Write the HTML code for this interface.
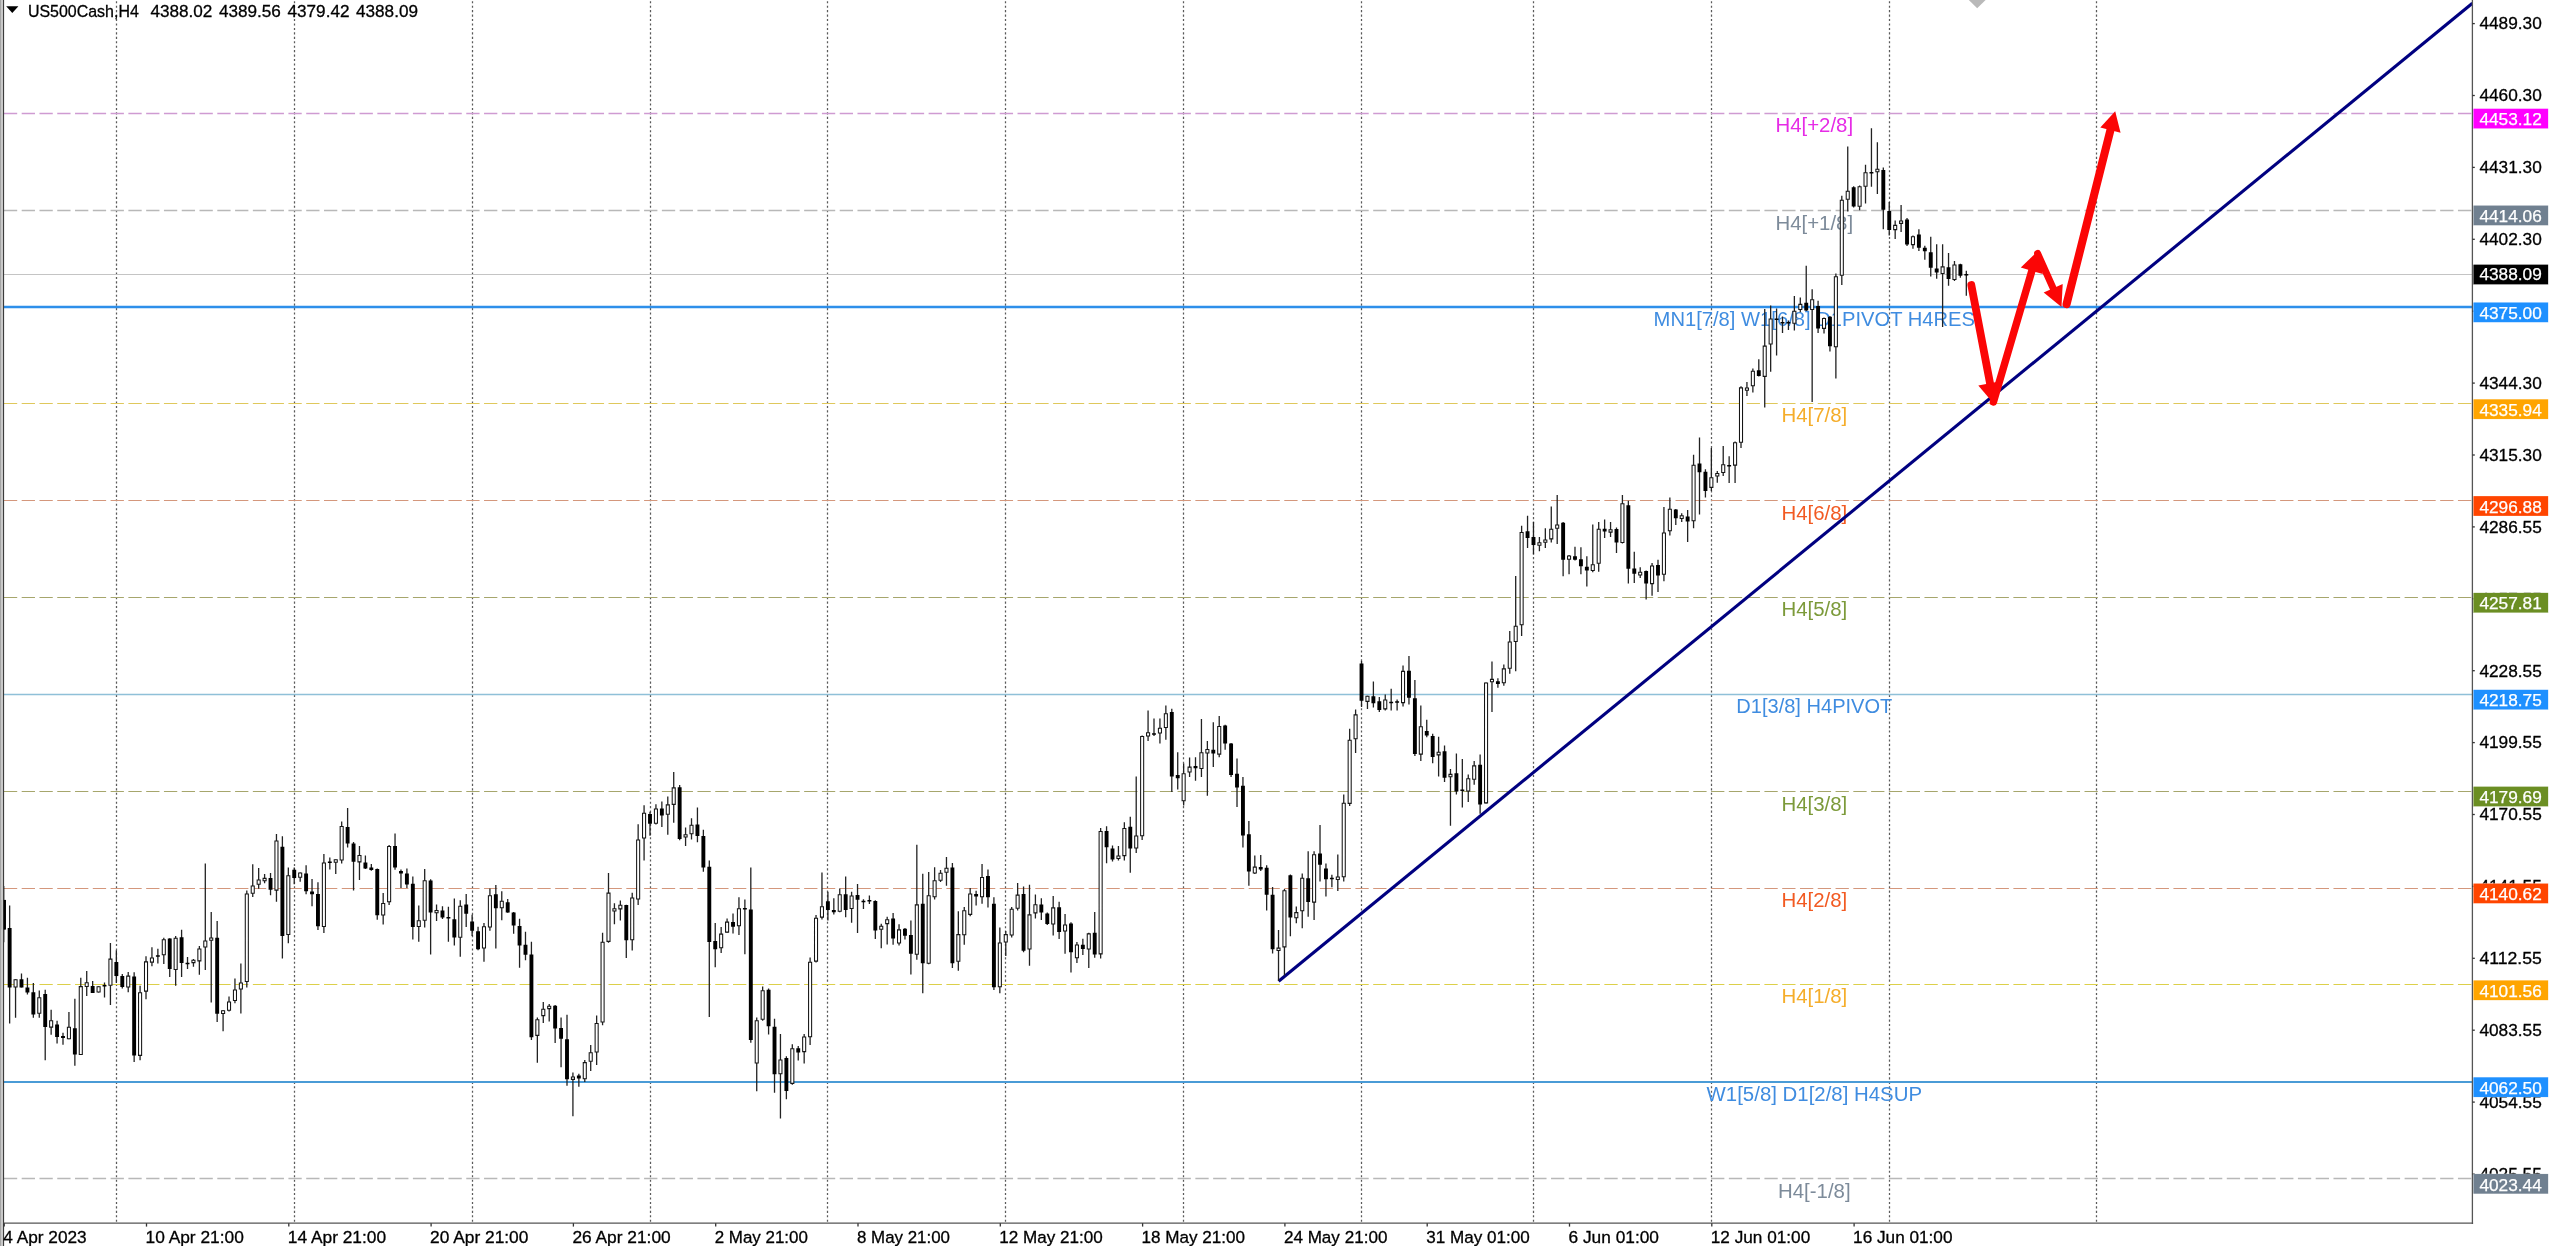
<!DOCTYPE html>
<html><head><meta charset="utf-8"><title>US500Cash,H4</title>
<style>html,body{margin:0;padding:0;background:#fff;overflow:hidden}body{width:2560px;height:1246px;position:relative;font-family:"Liberation Sans",sans-serif}</style>
</head><body>
<svg width="2560" height="1246" viewBox="0 0 2560 1246" style="position:absolute;left:0;top:0;will-change:transform;font-family:'Liberation Sans',sans-serif">
<rect x="0" y="0" width="2560" height="1246" fill="#fff"/>
<g stroke="#1a1a1a" stroke-opacity=".72" stroke-width="1.25" stroke-dasharray="2.1 2.347" fill="none">
<path d="M116.50 1.2V1223.2"/>
<path d="M294.50 1.2V1223.2"/>
<path d="M472.50 1.2V1223.2"/>
<path d="M650.50 1.2V1223.2"/>
<path d="M827.50 1.2V1223.2"/>
<path d="M1005.50 1.2V1223.2"/>
<path d="M1183.50 1.2V1223.2"/>
<path d="M1361.50 1.2V1223.2"/>
<path d="M1533.50 1.2V1223.2"/>
<path d="M1711.50 1.2V1223.2"/>
<path d="M1889.50 1.2V1223.2"/>
<path d="M2096.50 1.2V1223.2"/>
</g>
<path d="M3.90 113.50H2472.4" stroke="#cf9bd2" stroke-width="1.3" stroke-dasharray="13.3 4.483" fill="none"/>
<path d="M3.90 210.50H2472.4" stroke="#b8b8b8" stroke-width="1.4" stroke-dasharray="13.3 4.483" fill="none"/>
<path d="M3.60 274.50H2472.4" stroke="#c4c4c4" stroke-width="1.2" fill="none"/>
<path d="M3.60 307.00H2472.4" stroke="#2e8fea" stroke-width="2.3" fill="none"/>
<path d="M3.90 403.50H2472.4" stroke="#dfc85c" stroke-width="1.1" stroke-dasharray="13.3 4.483" fill="none"/>
<path d="M3.90 500.50H2472.4" stroke="#d4977c" stroke-width="1.1" stroke-dasharray="13.3 4.483" fill="none"/>
<path d="M3.90 597.50H2472.4" stroke="#a6a66c" stroke-width="1.1" stroke-dasharray="13.3 4.483" fill="none"/>
<path d="M3.60 694.50H2472.4" stroke="#8fc0d8" stroke-width="1.6" fill="none"/>
<path d="M3.90 791.50H2472.4" stroke="#a6a66c" stroke-width="1.1" stroke-dasharray="13.3 4.483" fill="none"/>
<path d="M3.90 888.50H2472.4" stroke="#d4977c" stroke-width="1.1" stroke-dasharray="13.3 4.483" fill="none"/>
<path d="M3.90 984.50H2472.4" stroke="#dcd04a" stroke-width="1.1" stroke-dasharray="13.3 4.483" fill="none"/>
<path d="M3.60 1082.00H2472.4" stroke="#4a9bd6" stroke-width="2.0" fill="none"/>
<path d="M3.90 1178.50H2472.4" stroke="#b8b8b8" stroke-width="1.4" stroke-dasharray="13.3 4.483" fill="none"/>
<g font-size="20.5" text-anchor="middle">
<text transform="translate(1814.3 131.7) scale(0.996 1)" fill="#e62ce6">H4[+2/8]</text>
<text transform="translate(1814.3 229.5) scale(0.996 1)" fill="#7d8b9a">H4[+1/8]</text>
<text transform="translate(1814.3 325.8) scale(0.985 1)" fill="#3f8ce0">MN1[7/8] W1[6/8] D1PIVOT H4RES</text>
<text transform="translate(1814.3 422.2) scale(0.996 1)" fill="#f5ad2a">H4[7/8]</text>
<text transform="translate(1814.3 520.0) scale(0.996 1)" fill="#f25a22">H4[6/8]</text>
<text transform="translate(1814.3 616.4) scale(0.996 1)" fill="#7c9a3a">H4[5/8]</text>
<text transform="translate(1814.3 712.7) scale(0.979 1)" fill="#3f8ce0">D1[3/8] H4PIVOT</text>
<text transform="translate(1814.3 810.6) scale(0.996 1)" fill="#7c9a3a">H4[3/8]</text>
<text transform="translate(1814.3 906.9) scale(0.996 1)" fill="#f25a22">H4[2/8]</text>
<text transform="translate(1814.3 1003.3) scale(0.996 1)" fill="#f5ad2a">H4[1/8]</text>
<text transform="translate(1814.3 1101.1) scale(0.996 1)" fill="#3f8ce0">W1[5/8] D1[2/8] H4SUP</text>
<text transform="translate(1814.3 1197.5) scale(0.996 1)" fill="#7d8b9a">H4[-1/8]</text>
</g>
<path d="M1278.6 981.2L2472.4 3.2" stroke="#000080" stroke-width="3.1" fill="none" stroke-linecap="butt"/>
<path d="M3.71 886.0V942.3M9.64 905.4V1023.6M15.56 979.3V1017.7M21.49 973.4V987.6M27.42 977.8V994.4M33.35 983.0V1017.7M39.28 990.4V1017.7M45.21 989.8V1060.2M51.14 1009.7V1034.7M57.07 1020.8V1043.5M63.00 1032.8V1044.8M68.93 1012.1V1039.3M74.86 998.7V1065.7M80.79 977.8V1055.0M86.72 971.0V995.9M92.65 981.1V993.1M98.58 986.3V992.6M104.50 982.6V997.4M110.43 942.9V1005.1M116.36 950.3V983.0M122.29 974.1V988.5M128.22 971.9V992.2M134.15 972.3V1062.0M140.08 985.7V1060.2M146.01 956.2V999.2M151.94 947.3V966.3M157.87 948.8V963.6M163.80 937.7V964.1M169.73 938.3V977.1M175.66 935.9V985.7M181.59 929.8V977.1M187.52 957.1V969.1M193.45 959.0V966.7M199.37 946.0V974.7M205.30 863.5V970.1M211.23 911.9V1002.4M217.16 921.1V1021.9M223.09 1010.1V1031.2M229.02 996.5V1011.6M234.95 978.4V1003.3M240.88 963.6V1013.5M246.81 890.6V987.6M252.74 864.2V897.1M258.67 867.9V888.8M264.60 874.0V883.3M270.53 873.1V895.3M276.46 834.0V901.7M282.39 836.2V958.4M288.32 867.6V943.3M294.24 867.6V884.2M300.17 872.5V881.8M306.10 865.2V894.3M312.03 879.0V906.3M317.96 882.3V930.0M323.89 854.1V933.1M329.82 857.4V869.4M335.75 859.6V874.0M341.68 821.4V863.5M347.61 807.9V847.6M353.54 842.1V890.6M359.47 846.0V879.9M365.40 855.6V869.0M371.33 863.9V870.7M377.26 868.5V919.8M383.18 892.9V924.4M389.11 845.0V904.9M395.04 833.4V869.8M400.97 869.4V887.9M406.90 868.5V887.9M412.83 876.4V939.6M418.76 905.4V941.8M424.69 868.9V927.6M430.62 879.2V954.4M436.55 904.5V921.1M442.48 906.3V918.9M448.41 906.7V941.8M454.34 898.4V945.5M460.27 900.2V956.8M466.20 894.0V927.0M472.13 914.7V935.9M478.05 926.7V950.3M483.98 923.0V961.7M489.91 888.4V930.7M495.84 885.1V948.4M501.77 891.2V920.2M507.70 899.0V912.8M513.63 911.9V933.7M519.56 918.7V967.7M525.49 931.8V960.3M531.42 941.7V1040.0M537.35 1017.4V1062.7M543.28 1002.1V1023.0M549.21 1004.1V1021.5M555.14 1004.9V1042.9M561.07 1017.4V1067.3M567.00 1014.7V1085.8M572.92 1072.5V1116.2M578.85 1073.7V1086.7M584.78 1059.9V1082.1M590.71 1045.1V1071.0M596.64 1015.6V1065.1M602.57 932.8V1025.2M608.50 873.0V942.8M614.43 903.3V924.2M620.36 900.5V920.5M626.29 904.8V958.0M632.22 892.8V950.6M638.15 824.3V905.0M644.08 805.2V860.6M650.01 811.7V835.7M655.94 804.3V824.6M661.86 801.6V826.9M667.79 796.4V834.8M673.72 772.0V822.8M679.65 784.9V840.3M685.58 827.4V845.9M691.51 818.2V839.4M697.44 807.5V842.2M703.37 829.8V871.7M709.30 860.6V1017.1M715.23 922.9V967.2M721.16 927.1V953.0M727.09 918.4V932.7M733.02 913.6V933.6M738.95 897.2V935.1M744.88 899.4V954.3M750.81 867.4V1042.8M756.73 1017.4V1091.3M762.66 986.6V1020.7M768.59 988.4V1034.4M774.52 1018.7V1092.8M780.45 1034.0V1118.6M786.38 1056.2V1099.2M792.31 1044.2V1084.8M798.24 1046.0V1060.5M804.17 1034.0V1063.6M810.10 957.4V1045.1M816.03 914.9V962.4M821.96 872.4V919.5M827.89 891.8V920.4M833.82 898.2V914.5M839.75 888.6V912.3M845.67 876.6V917.3M851.60 891.8V922.8M857.53 884.0V933.0M863.46 899.2V909.0M869.39 895.5V903.9M875.32 900.2V938.9M881.25 923.8V948.2M887.18 916.8V944.5M893.11 913.1V944.8M899.04 924.2V945.4M904.97 927.9V939.5M910.90 920.5V974.6M916.83 844.7V959.7M922.76 873.7V993.2M928.69 871.9V964.2M934.62 867.2V899.6M940.54 870.0V882.0M946.47 857.1V885.7M952.40 863.0V967.9M958.33 911.2V970.7M964.26 907.0V944.8M970.19 887.9V916.2M976.12 890.7V905.5M982.05 864.1V903.8M987.98 869.5V907.5M993.91 897.2V990.1M999.84 927.6V993.2M1005.77 931.0V955.9M1011.70 907.0V937.4M1017.63 882.9V910.6M1023.56 886.6V952.2M1029.49 884.8V965.7M1035.41 894.4V918.4M1041.34 898.3V919.9M1047.27 912.5V924.9M1053.20 895.9V935.6M1059.13 901.8V938.9M1065.06 914.0V953.7M1070.99 922.3V972.5M1076.92 942.0V962.9M1082.85 938.7V955.0M1088.78 932.8V967.9M1094.71 911.9V957.7M1100.64 828.0V958.6M1106.57 826.3V863.3M1112.50 845.4V861.6M1118.43 845.9V860.4M1124.35 822.3V860.4M1130.28 816.8V872.8M1136.21 776.5V852.9M1142.14 735.5V840.0M1148.07 710.6V741.0M1154.00 718.6V736.0M1159.93 718.6V743.5M1165.86 705.4V739.7M1171.79 708.7V792.0M1177.72 752.2V789.5M1183.65 763.4V805.6M1189.58 757.6V777.0M1195.51 757.2V780.8M1201.44 719.1V777.0M1207.37 741.0V795.7M1213.30 722.3V767.1M1219.22 716.1V757.2M1225.15 724.8V749.7M1231.08 743.0V777.0M1237.01 758.4V806.9M1242.94 777.0V847.4M1248.87 821.1V885.7M1254.80 855.4V874.0M1260.73 854.9V871.1M1266.66 865.3V910.6M1272.59 887.0V953.6M1278.52 930.0V981.0M1284.45 889.0V975.5M1290.38 874.5V936.2M1296.31 906.4V923.3M1302.24 873.5V928.3M1308.17 851.2V916.8M1314.09 851.2V920.1M1320.02 825.0V881.5M1325.95 863.6V896.4M1331.88 874.8V887.2M1337.81 854.4V890.9M1343.74 794.4V881.5M1349.67 728.8V805.9M1355.60 709.4V752.9M1361.53 660.9V706.9M1367.46 695.7V708.9M1373.39 681.5V707.4M1379.32 696.9V711.9M1385.25 694.5V710.6M1391.18 688.7V710.6M1397.11 699.4V710.6M1403.03 665.4V706.4M1408.96 655.9V704.4M1414.89 680.0V756.1M1420.82 705.6V760.9M1426.75 719.8V737.2M1432.68 733.8V763.3M1438.61 736.7V776.5M1444.54 745.4V782.0M1450.47 769.1V825.8M1456.40 753.4V794.4M1462.33 759.1V807.6M1468.26 774.5V801.9M1474.19 761.1V784.7M1480.12 754.6V813.8M1486.05 682.5V803.4M1491.98 661.4V711.9M1497.90 678.3V687.7M1503.83 664.6V685.8M1509.76 631.0V673.8M1515.69 575.9V671.2M1521.62 525.7V635.9M1527.55 515.8V548.1M1533.48 522.0V554.3M1539.41 536.9V551.3M1545.34 528.2V548.1M1551.27 506.5V542.6M1557.20 495.1V543.9M1563.13 522.0V576.2M1569.06 555.0V574.2M1574.99 546.8V560.5M1580.92 547.3V574.2M1586.84 556.3V586.6M1592.77 524.5V572.2M1598.70 522.0V571.7M1604.63 519.5V538.1M1610.56 522.0V536.9M1616.49 527.4V553.1M1622.42 495.1V543.6M1628.35 500.8V583.4M1634.28 551.8V582.9M1640.21 567.2V577.9M1646.14 570.5V599.6M1652.07 563.0V595.8M1658.00 559.8V592.1M1663.93 507.0V581.2M1669.86 497.6V535.6M1675.79 509.0V525.0M1681.71 513.3V522.0M1687.64 510.0V541.9M1693.57 454.8V528.2M1699.50 437.4V514.5M1705.43 469.2V497.6M1711.36 447.9V490.9M1717.29 471.0V482.7M1723.22 446.1V476.0M1729.15 456.2V483.0M1735.08 441.6V483.0M1741.01 386.3V447.9M1746.94 382.1V396.1M1752.87 368.6V392.6M1758.80 359.2V376.5M1764.73 309.1V407.6M1770.66 305.5V371.7M1776.58 308.4V355.6M1782.51 316.4V333.1M1788.44 320.5V329.9M1794.37 296.1V330.6M1800.30 297.6V312.2M1806.23 265.8V311.1M1812.16 289.2V402.0M1818.09 300.7V333.1M1824.02 317.4V333.5M1829.95 315.9V351.4M1835.88 273.6V378.6M1841.81 195.7V284.9M1847.74 146.6V211.6M1853.67 186.3V207.5M1859.60 185.6V210.3M1865.52 164.8V203.6M1871.45 128.2V186.8M1877.38 142.3V193.9M1883.31 167.4V229.2M1889.24 201.9V235.4M1895.17 220.4V239.0M1901.10 204.9V231.9M1907.03 218.1V246.0M1912.96 235.4V248.7M1918.89 229.2V251.0M1924.82 245.7V259.8M1930.75 236.8V276.4M1936.68 244.3V278.7M1942.61 244.3V326.9M1948.54 253.1V285.8M1954.47 261.0V281.0M1960.39 263.7V277.8M1966.32 270.7V295.8" stroke="#222" stroke-width="1.3" fill="none"/>
<path d="M1.76 899.9h3.90V929.4h-3.90zM7.69 927.9h3.90V987.6h-3.90zM19.54 979.3h3.90V987.6h-3.90zM25.47 987.6h3.90V992.6h-3.90zM31.40 992.2h3.90V1014.4h-3.90zM43.26 994.0h3.90V1026.9h-3.90zM55.12 1024.5h3.90V1036.9h-3.90zM61.05 1036.1h3.90V1038.0h-3.90zM72.91 1028.2h3.90V1054.6h-3.90zM90.70 986.1h3.90V993.1h-3.90zM102.55 985.1h3.90V986.6h-3.90zM114.41 962.1h3.90V975.9h-3.90zM120.34 975.9h3.90V987.0h-3.90zM132.20 976.5h3.90V1055.4h-3.90zM155.92 955.3h3.90V956.8h-3.90zM167.78 938.6h3.90V969.1h-3.90zM179.64 937.2h3.90V963.0h-3.90zM185.57 962.8h3.90V964.3h-3.90zM215.21 937.7h3.90V1013.8h-3.90zM268.58 878.1h3.90V889.7h-3.90zM280.44 846.7h3.90V935.9h-3.90zM292.29 869.8h3.90V878.1h-3.90zM304.15 873.5h3.90V891.2h-3.90zM310.08 891.6h3.90V894.3h-3.90zM316.01 894.0h3.90V926.3h-3.90zM327.87 861.4h3.90V862.9h-3.90zM345.66 826.9h3.90V843.6h-3.90zM351.59 843.6h3.90V861.7h-3.90zM363.45 862.4h3.90V868.5h-3.90zM369.38 867.6h3.90V870.0h-3.90zM375.31 868.9h3.90V915.2h-3.90zM393.09 846.0h3.90V867.6h-3.90zM399.02 870.9h3.90V873.5h-3.90zM404.95 873.5h3.90V884.6h-3.90zM410.88 883.8h3.90V927.0h-3.90zM428.67 880.5h3.90V912.4h-3.90zM440.53 910.4h3.90V917.4h-3.90zM446.46 917.1h3.90V918.6h-3.90zM452.39 919.3h3.90V937.4h-3.90zM464.25 904.5h3.90V913.7h-3.90zM470.18 921.5h3.90V930.7h-3.90zM476.10 931.3h3.90V949.2h-3.90zM493.89 894.3h3.90V908.2h-3.90zM505.75 902.3h3.90V912.4h-3.90zM511.68 912.4h3.90V925.4h-3.90zM517.61 926.1h3.90V945.5h-3.90zM523.54 944.8h3.90V954.7h-3.90zM529.47 954.6h3.90V1037.2h-3.90zM553.19 1005.8h3.90V1028.5h-3.90zM559.12 1028.1h3.90V1038.7h-3.90zM565.05 1039.2h3.90V1079.3h-3.90zM576.90 1075.6h3.90V1078.4h-3.90zM624.34 905.1h3.90V940.2h-3.90zM648.06 813.9h3.90V823.7h-3.90zM659.91 808.4h3.90V815.4h-3.90zM677.70 787.3h3.90V839.0h-3.90zM695.49 824.6h3.90V836.1h-3.90zM701.42 836.1h3.90V867.5h-3.90zM707.35 866.7h3.90V941.9h-3.90zM713.28 941.0h3.90V949.3h-3.90zM731.07 922.0h3.90V926.8h-3.90zM742.93 907.9h3.90V909.4h-3.90zM748.86 909.5h3.90V1040.1h-3.90zM766.64 989.7h3.90V1026.3h-3.90zM772.57 1026.7h3.90V1074.3h-3.90zM784.43 1058.1h3.90V1090.9h-3.90zM796.29 1048.3h3.90V1052.5h-3.90zM825.94 901.2h3.90V909.9h-3.90zM831.87 909.9h3.90V912.3h-3.90zM843.72 894.2h3.90V909.9h-3.90zM855.58 895.1h3.90V899.7h-3.90zM861.51 900.8h3.90V902.3h-3.90zM867.44 899.9h3.90V901.4h-3.90zM873.37 901.1h3.90V930.6h-3.90zM891.16 918.6h3.90V938.4h-3.90zM903.02 928.8h3.90V935.8h-3.90zM908.95 934.9h3.90V953.7h-3.90zM920.81 903.8h3.90V963.3h-3.90zM950.45 867.6h3.90V963.3h-3.90zM974.17 894.0h3.90V896.4h-3.90zM986.03 876.1h3.90V897.2h-3.90zM991.96 903.8h3.90V987.3h-3.90zM1021.61 894.0h3.90V950.7h-3.90zM1039.39 904.6h3.90V912.5h-3.90zM1045.32 913.4h3.90V924.1h-3.90zM1057.18 907.3h3.90V931.9h-3.90zM1069.04 923.6h3.90V952.2h-3.90zM1080.90 944.8h3.90V948.9h-3.90zM1092.76 932.8h3.90V954.4h-3.90zM1104.62 831.0h3.90V847.2h-3.90zM1110.55 848.4h3.90V859.6h-3.90zM1128.33 826.8h3.90V848.4h-3.90zM1152.05 733.3h3.90V734.8h-3.90zM1169.84 711.9h3.90V776.5h-3.90zM1175.77 775.1h3.90V778.3h-3.90zM1193.56 765.9h3.90V768.3h-3.90zM1211.35 749.7h3.90V753.4h-3.90zM1223.20 725.6h3.90V743.5h-3.90zM1229.13 743.5h3.90V775.1h-3.90zM1235.06 773.8h3.90V787.5h-3.90zM1240.99 785.8h3.90V835.5h-3.90zM1246.92 834.2h3.90V871.6h-3.90zM1258.78 867.1h3.90V869.6h-3.90zM1264.71 867.8h3.90V894.7h-3.90zM1270.64 894.7h3.90V949.2h-3.90zM1288.43 875.3h3.90V917.6h-3.90zM1306.22 878.3h3.90V901.9h-3.90zM1318.07 853.6h3.90V864.8h-3.90zM1324.00 868.6h3.90V879.2h-3.90zM1329.93 877.7h3.90V879.2h-3.90zM1359.58 663.4h3.90V700.7h-3.90zM1371.44 696.2h3.90V703.2h-3.90zM1377.37 701.2h3.90V709.9h-3.90zM1389.23 701.7h3.90V703.2h-3.90zM1395.16 701.2h3.90V702.7h-3.90zM1407.01 670.8h3.90V697.7h-3.90zM1412.94 698.2h3.90V754.1h-3.90zM1424.80 731.0h3.90V735.5h-3.90zM1430.73 736.0h3.90V757.1h-3.90zM1442.59 751.2h3.90V777.8h-3.90zM1454.45 773.3h3.90V791.5h-3.90zM1460.38 789.5h3.90V791.0h-3.90zM1478.17 764.8h3.90V804.4h-3.90zM1495.95 681.3h3.90V684.0h-3.90zM1525.60 531.2h3.90V538.1h-3.90zM1531.53 536.9h3.90V544.9h-3.90zM1561.18 522.7h3.90V559.8h-3.90zM1573.04 556.3h3.90V559.8h-3.90zM1578.97 559.3h3.90V566.2h-3.90zM1584.89 566.7h3.90V570.5h-3.90zM1602.68 528.7h3.90V531.4h-3.90zM1614.54 528.9h3.90V542.6h-3.90zM1626.40 505.3h3.90V568.7h-3.90zM1632.33 568.5h3.90V573.7h-3.90zM1644.19 571.0h3.90V583.4h-3.90zM1656.05 565.0h3.90V575.4h-3.90zM1673.84 509.5h3.90V518.2h-3.90zM1685.69 516.5h3.90V521.5h-3.90zM1697.55 463.5h3.90V472.2h-3.90zM1703.48 471.7h3.90V490.9h-3.90zM1727.20 465.0h3.90V466.5h-3.90zM1756.85 370.2h3.90V375.9h-3.90zM1774.63 318.4h3.90V319.9h-3.90zM1780.56 322.0h3.90V323.5h-3.90zM1786.49 322.0h3.90V323.5h-3.90zM1804.28 302.8h3.90V310.5h-3.90zM1816.14 305.9h3.90V328.5h-3.90zM1828.00 316.8h3.90V346.2h-3.90zM1851.72 187.2h3.90V206.6h-3.90zM1869.50 172.0h3.90V173.5h-3.90zM1881.36 170.1h3.90V209.8h-3.90zM1887.29 211.0h3.90V230.1h-3.90zM1905.08 219.5h3.90V244.6h-3.90zM1916.94 234.5h3.90V247.8h-3.90zM1922.87 247.8h3.90V251.3h-3.90zM1928.80 252.2h3.90V267.7h-3.90zM1934.73 268.5h3.90V272.5h-3.90zM1946.59 267.2h3.90V279.1h-3.90zM1958.44 264.2h3.90V275.7h-3.90zM1964.37 274.0h3.90V275.5h-3.90z" fill="#000"/>
<path d="M14.04 979.80h3.05V987.06h-3.05zM37.76 997.71h3.05V1013.28h-3.05zM49.62 1020.79h3.05V1027.13h-3.05zM67.40 1027.26h3.05V1038.76h-3.05zM79.26 986.63h3.05V1054.46h-3.05zM85.19 982.75h3.05V986.50h-3.05zM97.05 986.81h3.05V992.04h-3.05zM108.91 959.11h3.05V985.21h-3.05zM126.70 976.10h3.05V987.06h-3.05zM138.56 992.72h3.05V1055.38h-3.05zM144.49 961.88h3.05V991.12h-3.05zM150.41 958.00h3.05V962.13h-3.05zM162.27 939.72h3.05V954.74h-3.05zM174.13 938.24h3.05V969.51h-3.05zM191.92 960.27h3.05V962.62h-3.05zM197.85 948.97h3.05V960.85h-3.05zM203.78 941.03h3.05V947.00h-3.05zM209.71 937.95h3.05V940.30h-3.05zM221.57 1010.65h3.05V1013.48h-3.05zM227.50 1001.97h3.05V1010.16h-3.05zM233.43 989.97h3.05V1000.56h-3.05zM239.36 982.95h3.05V988.92h-3.05zM245.28 893.94h3.05V981.53h-3.05zM251.21 886.00h3.05V893.26h-3.05zM257.14 880.09h3.05V884.21h-3.05zM263.07 878.39h3.05V880.74h-3.05zM274.93 840.94h3.05V890.12h-3.05zM286.79 875.84h3.05V934.44h-3.05zM298.65 873.07h3.05V877.19h-3.05zM322.37 862.92h3.05V926.50h-3.05zM334.23 859.83h3.05V862.18h-3.05zM340.15 826.54h3.05V860.02h-3.05zM357.94 855.53h3.05V861.87h-3.05zM381.66 903.54h3.05V915.05h-3.05zM387.59 846.48h3.05V901.76h-3.05zM417.24 920.72h3.05V926.50h-3.05zM423.17 880.65h3.05V920.22h-3.05zM435.02 910.43h3.05V912.78h-3.05zM458.74 906.31h3.05V937.21h-3.05zM482.46 926.81h3.05V947.92h-3.05zM488.39 895.79h3.05V927.06h-3.05zM500.25 901.33h3.05V907.67h-3.05zM535.82 1019.80h3.05V1035.37h-3.05zM541.75 1009.27h3.05V1015.61h-3.05zM547.68 1006.28h3.05V1008.63h-3.05zM571.40 1077.01h3.05V1079.36h-3.05zM583.26 1062.64h3.05V1078.76h-3.05zM589.19 1052.67h3.05V1061.22h-3.05zM595.12 1023.49h3.05V1051.99h-3.05zM601.05 942.23h3.05V1022.07h-3.05zM606.98 893.12h3.05V941.38h-3.05zM612.90 908.68h3.05V911.03h-3.05zM618.83 905.30h3.05V908.87h-3.05zM630.69 897.91h3.05V939.71h-3.05zM636.62 839.93h3.05V898.90h-3.05zM642.55 813.16h3.05V837.96h-3.05zM654.41 808.91h3.05V823.19h-3.05zM666.27 804.85h3.05V814.32h-3.05zM672.20 787.86h3.05V804.35h-3.05zM684.06 834.73h3.05V837.08h-3.05zM689.99 825.16h3.05V833.71h-3.05zM719.63 934.12h3.05V947.84h-3.05zM725.56 922.11h3.05V932.14h-3.05zM737.42 908.82h3.05V925.68h-3.05zM755.21 1020.72h3.05V1063.07h-3.05zM761.14 990.80h3.05V1019.30h-3.05zM778.93 1060.05h3.05V1073.78h-3.05zM790.79 1048.79h3.05V1083.38h-3.05zM802.64 1036.97h3.05V1051.62h-3.05zM808.57 962.18h3.05V1036.84h-3.05zM814.50 918.23h3.05V961.13h-3.05zM820.43 906.71h3.05V917.11h-3.05zM838.22 894.71h3.05V911.20h-3.05zM850.08 896.00h3.05V908.43h-3.05zM879.73 926.17h3.05V929.18h-3.05zM885.66 919.70h3.05V923.64h-3.05zM897.51 929.86h3.05V943.03h-3.05zM915.30 904.86h3.05V954.23h-3.05zM927.16 895.84h3.05V963.31h-3.05zM933.09 880.70h3.05V896.82h-3.05zM939.02 873.31h3.05V880.20h-3.05zM944.95 868.33h3.05V872.26h-3.05zM956.81 934.62h3.05V961.28h-3.05zM962.74 910.80h3.05V934.68h-3.05zM968.67 894.00h3.05V914.37h-3.05zM980.53 877.56h3.05V896.82h-3.05zM998.31 942.93h3.05V986.76h-3.05zM1004.24 934.62h3.05V942.07h-3.05zM1010.17 909.32h3.05V935.05h-3.05zM1016.10 895.10h3.05V908.27h-3.05zM1027.96 914.86h3.05V948.90h-3.05zM1033.89 904.71h3.05V912.89h-3.05zM1051.68 907.85h3.05V923.97h-3.05zM1063.54 925.02h3.05V930.99h-3.05zM1075.40 944.97h3.05V957.77h-3.05zM1087.25 933.89h3.05V948.90h-3.05zM1099.11 831.54h3.05V953.85h-3.05zM1116.90 856.08h3.05V858.43h-3.05zM1122.83 828.56h3.05V855.61h-3.05zM1134.69 836.02h3.05V847.90h-3.05zM1140.62 736.54h3.05V835.71h-3.05zM1146.55 732.81h3.05V735.98h-3.05zM1158.41 728.33h3.05V733.00h-3.05zM1164.34 713.65h3.05V727.53h-3.05zM1182.12 773.84h3.05V800.65h-3.05zM1188.05 767.13h3.05V772.05h-3.05zM1199.91 752.70h3.05V768.56h-3.05zM1205.84 749.47h3.05V752.90h-3.05zM1217.70 726.59h3.05V754.14h-3.05zM1253.28 867.11h3.05V873.02h-3.05zM1276.99 948.10h3.05V950.45h-3.05zM1282.92 890.73h3.05V946.89h-3.05zM1294.78 912.62h3.05V917.79h-3.05zM1300.71 878.30h3.05V910.82h-3.05zM1312.57 854.67h3.05V902.12h-3.05zM1336.29 877.08h3.05V879.43h-3.05zM1342.22 803.17h3.05V876.73h-3.05zM1348.15 740.25h3.05V803.36h-3.05zM1354.07 714.88h3.05V738.70h-3.05zM1365.93 696.23h3.05V701.39h-3.05zM1383.72 699.96h3.05V708.85h-3.05zM1401.51 671.35h3.05V702.64h-3.05zM1419.30 726.82h3.05V754.12h-3.05zM1437.09 752.18h3.05V754.86h-3.05zM1448.94 774.36h3.05V776.71h-3.05zM1466.73 778.80h3.05V790.93h-3.05zM1472.66 765.86h3.05V779.24h-3.05zM1484.52 683.04h3.05V802.87h-3.05zM1490.45 679.35h3.05V681.70h-3.05zM1502.31 668.87h3.05V682.74h-3.05zM1508.24 642.01h3.05V668.32h-3.05zM1514.17 626.21h3.05V641.57h-3.05zM1520.10 532.44h3.05V624.66h-3.05zM1537.89 542.81h3.05V545.16h-3.05zM1543.81 539.95h3.05V542.30h-3.05zM1549.74 529.21h3.05V538.85h-3.05zM1555.67 524.98h3.05V528.16h-3.05zM1567.53 556.07h3.05V559.25h-3.05zM1591.25 564.77h3.05V570.44h-3.05zM1597.18 529.21h3.05V563.23h-3.05zM1609.04 529.75h3.05V532.10h-3.05zM1620.90 503.84h3.05V542.58h-3.05zM1638.68 572.24h3.05V574.92h-3.05zM1650.54 566.02h3.05V583.62h-3.05zM1662.40 532.94h3.05V574.17h-3.05zM1668.33 509.31h3.05V530.65h-3.05zM1680.19 515.78h3.05V518.46h-3.05zM1692.05 465.29h3.05V520.70h-3.05zM1709.84 477.73h3.05V487.37h-3.05zM1715.77 473.50h3.05V475.93h-3.05zM1721.70 464.79h3.05V472.45h-3.05zM1733.55 442.78h3.05V465.11h-3.05zM1739.48 387.87h3.05V442.15h-3.05zM1745.41 387.95h3.05V390.30h-3.05zM1751.34 371.17h3.05V385.78h-3.05zM1763.20 346.12h3.05V376.39h-3.05zM1769.13 318.98h3.05V344.03h-3.05zM1792.85 311.26h3.05V323.15h-3.05zM1798.78 304.37h3.05V309.58h-3.05zM1810.64 299.77h3.05V309.58h-3.05zM1822.49 318.56h3.05V328.37h-3.05zM1834.35 276.81h3.05V346.74h-3.05zM1840.28 200.26h3.05V275.17h-3.05zM1846.21 191.25h3.05V199.21h-3.05zM1858.07 186.84h3.05V206.28h-3.05zM1864.00 172.70h3.05V186.32h-3.05zM1875.86 169.33h3.05V171.68h-3.05zM1893.65 225.35h3.05V229.60h-3.05zM1899.58 221.00h3.05V223.35h-3.05zM1911.43 236.83h3.05V244.61h-3.05zM1941.08 266.86h3.05V273.40h-3.05zM1952.94 265.09h3.05V279.41h-3.05z" fill="#fff" stroke="#151515" stroke-width="1.05"/>
<path d="M1971.3 285.0L1990.4 385.3" stroke="#fb0606" stroke-width="7.8" stroke-linecap="round" fill="none"/><path d="M1994.0 404.0L1978.3 385.6L2001.9 381.1z" fill="#fb0606"/>
<path d="M1993.4 402.0L2032.4 269.0" stroke="#fb0606" stroke-width="7.5" stroke-linecap="round" fill="none"/><path d="M2037.6 251.2L2042.9 274.1L2020.8 267.6z" fill="#fb0606"/>
<path d="M2037.6 253.5L2054.0 290.1" stroke="#fb0606" stroke-width="7.0" stroke-linecap="round" fill="none"/><path d="M2061.5 306.9L2043.7 292.5L2062.7 284.0z" fill="#fb0606"/>
<path d="M2066.6 304.0L2110.9 128.3" stroke="#fb0606" stroke-width="8.1" stroke-linecap="round" fill="none"/><path d="M2115.2 111.3L2120.6 132.8L2100.3 127.6z" fill="#fb0606"/>
<path d="M1968.8 0H1985.6L1977.2 8.2z" fill="#b9b9b9"/>
<rect x="2473.0" y="0" width="87.6" height="1246" fill="#fff"/>
<rect x="0" y="1223.8" width="2560" height="22.8" fill="#fff"/>
<rect x="0" y="0" width="1.6" height="1246" fill="#a6a6a6"/>
<rect x="1.6" y="0" width="1.4" height="1246" fill="#c8c8c8"/>
<rect x="3" y="0" width="1.1" height="1246" fill="#3c3c3c"/>
<rect x="3.7" y="899.9" width="2.2" height="29.5" fill="#000"/>
<path d="M2472.40 0V1223.90" stroke="#555" stroke-width="1.3" fill="none"/>
<path d="M3.40 1223.20H2473.10" stroke="#555" stroke-width="1.3" fill="none"/>
<g font-size="17.2" fill="#000" stroke="#000" stroke-width=".3">
<path d="M2472.4 23.6h2.4" stroke="#333" stroke-width="1.3"/>
<text x="2479.4" y="29.4" textLength="62.4" lengthAdjust="spacingAndGlyphs">4489.30</text>
<path d="M2472.4 95.5h2.4" stroke="#333" stroke-width="1.3"/>
<text x="2479.4" y="101.3" textLength="62.4" lengthAdjust="spacingAndGlyphs">4460.30</text>
<path d="M2472.4 167.4h2.4" stroke="#333" stroke-width="1.3"/>
<text x="2479.4" y="173.2" textLength="62.4" lengthAdjust="spacingAndGlyphs">4431.30</text>
<path d="M2472.4 239.3h2.4" stroke="#333" stroke-width="1.3"/>
<text x="2479.4" y="245.1" textLength="62.4" lengthAdjust="spacingAndGlyphs">4402.30</text>
<path d="M2472.4 311.2h2.4" stroke="#333" stroke-width="1.3"/>
<text x="2479.4" y="317.0" textLength="62.4" lengthAdjust="spacingAndGlyphs">4373.30</text>
<path d="M2472.4 383.1h2.4" stroke="#333" stroke-width="1.3"/>
<text x="2479.4" y="388.9" textLength="62.4" lengthAdjust="spacingAndGlyphs">4344.30</text>
<path d="M2472.4 455.0h2.4" stroke="#333" stroke-width="1.3"/>
<text x="2479.4" y="460.8" textLength="62.4" lengthAdjust="spacingAndGlyphs">4315.30</text>
<path d="M2472.4 526.9h2.4" stroke="#333" stroke-width="1.3"/>
<text x="2479.4" y="532.7" textLength="62.4" lengthAdjust="spacingAndGlyphs">4286.55</text>
<path d="M2472.4 598.8h2.4" stroke="#333" stroke-width="1.3"/>
<text x="2479.4" y="604.6" textLength="62.4" lengthAdjust="spacingAndGlyphs">4257.55</text>
<path d="M2472.4 670.7h2.4" stroke="#333" stroke-width="1.3"/>
<text x="2479.4" y="676.5" textLength="62.4" lengthAdjust="spacingAndGlyphs">4228.55</text>
<path d="M2472.4 742.6h2.4" stroke="#333" stroke-width="1.3"/>
<text x="2479.4" y="748.4" textLength="62.4" lengthAdjust="spacingAndGlyphs">4199.55</text>
<path d="M2472.4 814.5h2.4" stroke="#333" stroke-width="1.3"/>
<text x="2479.4" y="820.3" textLength="62.4" lengthAdjust="spacingAndGlyphs">4170.55</text>
<path d="M2472.4 886.4h2.4" stroke="#333" stroke-width="1.3"/>
<text x="2479.4" y="892.2" textLength="62.4" lengthAdjust="spacingAndGlyphs">4141.55</text>
<path d="M2472.4 958.3h2.4" stroke="#333" stroke-width="1.3"/>
<text x="2479.4" y="964.1" textLength="62.4" lengthAdjust="spacingAndGlyphs">4112.55</text>
<path d="M2472.4 1030.2h2.4" stroke="#333" stroke-width="1.3"/>
<text x="2479.4" y="1036.0" textLength="62.4" lengthAdjust="spacingAndGlyphs">4083.55</text>
<path d="M2472.4 1102.1h2.4" stroke="#333" stroke-width="1.3"/>
<text x="2479.4" y="1107.9" textLength="62.4" lengthAdjust="spacingAndGlyphs">4054.55</text>
<path d="M2472.4 1174.0h2.4" stroke="#333" stroke-width="1.3"/>
<text x="2479.4" y="1179.8" textLength="62.4" lengthAdjust="spacingAndGlyphs">4025.55</text>
</g>
<g font-size="17.2" fill="#fff" stroke="#fff" stroke-width=".25">
<rect x="2473.2" y="108.6" width="75" height="20" fill="#ff00ff"/>
<text x="2479.4" y="125.2" textLength="62.4" lengthAdjust="spacingAndGlyphs">4453.12</text>
<rect x="2473.2" y="205.4" width="75" height="20" fill="#708090"/>
<text x="2479.4" y="222.0" textLength="62.4" lengthAdjust="spacingAndGlyphs">4414.06</text>
<rect x="2473.2" y="302.3" width="75" height="20" fill="#1e90ff"/>
<text x="2479.4" y="318.9" textLength="62.4" lengthAdjust="spacingAndGlyphs">4375.00</text>
<rect x="2473.2" y="399.1" width="75" height="20" fill="#ffa500"/>
<text x="2479.4" y="415.7" textLength="62.4" lengthAdjust="spacingAndGlyphs">4335.94</text>
<rect x="2473.2" y="496.0" width="75" height="20" fill="#ff4500"/>
<text x="2479.4" y="512.6" textLength="62.4" lengthAdjust="spacingAndGlyphs">4296.88</text>
<rect x="2473.2" y="592.8" width="75" height="20" fill="#6b8e23"/>
<text x="2479.4" y="609.4" textLength="62.4" lengthAdjust="spacingAndGlyphs">4257.81</text>
<rect x="2473.2" y="689.7" width="75" height="20" fill="#1e90ff"/>
<text x="2479.4" y="706.3" textLength="62.4" lengthAdjust="spacingAndGlyphs">4218.75</text>
<rect x="2473.2" y="786.5" width="75" height="20" fill="#6b8e23"/>
<text x="2479.4" y="803.1" textLength="62.4" lengthAdjust="spacingAndGlyphs">4179.69</text>
<rect x="2473.2" y="883.4" width="75" height="20" fill="#ff4500"/>
<text x="2479.4" y="900.0" textLength="62.4" lengthAdjust="spacingAndGlyphs">4140.62</text>
<rect x="2473.2" y="980.2" width="75" height="20" fill="#ffa500"/>
<text x="2479.4" y="996.8" textLength="62.4" lengthAdjust="spacingAndGlyphs">4101.56</text>
<rect x="2473.2" y="1077.1" width="75" height="20" fill="#1e90ff"/>
<text x="2479.4" y="1093.7" textLength="62.4" lengthAdjust="spacingAndGlyphs">4062.50</text>
<rect x="2473.2" y="1173.9" width="75" height="20" fill="#708090"/>
<text x="2479.4" y="1190.5" textLength="62.4" lengthAdjust="spacingAndGlyphs">4023.44</text>
<rect x="2473.2" y="264.5" width="75" height="20" fill="#000"/>
<text x="2479.4" y="280.3" textLength="62.4" lengthAdjust="spacingAndGlyphs">4388.09</text>
</g>
<g font-size="17.2" fill="#000" stroke="#000" stroke-width=".3">
<path d="M4.2 1223.2v3.4" stroke="#333" stroke-width="1.3"/>
<text x="3.2" y="1243.2" textLength="83.5" lengthAdjust="spacingAndGlyphs">4 Apr 2023</text>
<path d="M146.5 1223.2v3.4" stroke="#333" stroke-width="1.3"/>
<text x="145.5" y="1243.2" textLength="98.3" lengthAdjust="spacingAndGlyphs">10 Apr 21:00</text>
<path d="M288.8 1223.2v3.4" stroke="#333" stroke-width="1.3"/>
<text x="287.8" y="1243.2" textLength="98.3" lengthAdjust="spacingAndGlyphs">14 Apr 21:00</text>
<path d="M431.1 1223.2v3.4" stroke="#333" stroke-width="1.3"/>
<text x="430.1" y="1243.2" textLength="98.3" lengthAdjust="spacingAndGlyphs">20 Apr 21:00</text>
<path d="M573.4 1223.2v3.4" stroke="#333" stroke-width="1.3"/>
<text x="572.4" y="1243.2" textLength="98.3" lengthAdjust="spacingAndGlyphs">26 Apr 21:00</text>
<path d="M715.7 1223.2v3.4" stroke="#333" stroke-width="1.3"/>
<text x="714.7" y="1243.2" textLength="93.2" lengthAdjust="spacingAndGlyphs">2 May 21:00</text>
<path d="M858.0 1223.2v3.4" stroke="#333" stroke-width="1.3"/>
<text x="857.0" y="1243.2" textLength="93.0" lengthAdjust="spacingAndGlyphs">8 May 21:00</text>
<path d="M1000.3 1223.2v3.4" stroke="#333" stroke-width="1.3"/>
<text x="999.3" y="1243.2" textLength="103.5" lengthAdjust="spacingAndGlyphs">12 May 21:00</text>
<path d="M1142.6 1223.2v3.4" stroke="#333" stroke-width="1.3"/>
<text x="1141.6" y="1243.2" textLength="103.5" lengthAdjust="spacingAndGlyphs">18 May 21:00</text>
<path d="M1284.9 1223.2v3.4" stroke="#333" stroke-width="1.3"/>
<text x="1283.9" y="1243.2" textLength="103.5" lengthAdjust="spacingAndGlyphs">24 May 21:00</text>
<path d="M1427.2 1223.2v3.4" stroke="#333" stroke-width="1.3"/>
<text x="1426.2" y="1243.2" textLength="103.5" lengthAdjust="spacingAndGlyphs">31 May 01:00</text>
<path d="M1569.5 1223.2v3.4" stroke="#333" stroke-width="1.3"/>
<text x="1568.5" y="1243.2" textLength="90.5" lengthAdjust="spacingAndGlyphs">6 Jun 01:00</text>
<path d="M1711.8 1223.2v3.4" stroke="#333" stroke-width="1.3"/>
<text x="1710.8" y="1243.2" textLength="99.4" lengthAdjust="spacingAndGlyphs">12 Jun 01:00</text>
<path d="M1854.1 1223.2v3.4" stroke="#333" stroke-width="1.3"/>
<text x="1853.1" y="1243.2" textLength="99.4" lengthAdjust="spacingAndGlyphs">16 Jun 01:00</text>
</g>
<path d="M6.2 6.2H18.4L12.3 13z" fill="#000"/>
<g font-size="17.2" fill="#000" stroke="#000" stroke-width=".3">
<text x="27.9" y="16.8" textLength="110.9" lengthAdjust="spacingAndGlyphs">US500Cash,H4</text>
<text x="150.4" y="16.8" textLength="62" lengthAdjust="spacingAndGlyphs">4388.02</text>
<text x="218.9" y="16.8" textLength="62" lengthAdjust="spacingAndGlyphs">4389.56</text>
<text x="287.5" y="16.8" textLength="62" lengthAdjust="spacingAndGlyphs">4379.42</text>
<text x="356.0" y="16.8" textLength="62" lengthAdjust="spacingAndGlyphs">4388.09</text>
</g>
</svg>
</body></html>
